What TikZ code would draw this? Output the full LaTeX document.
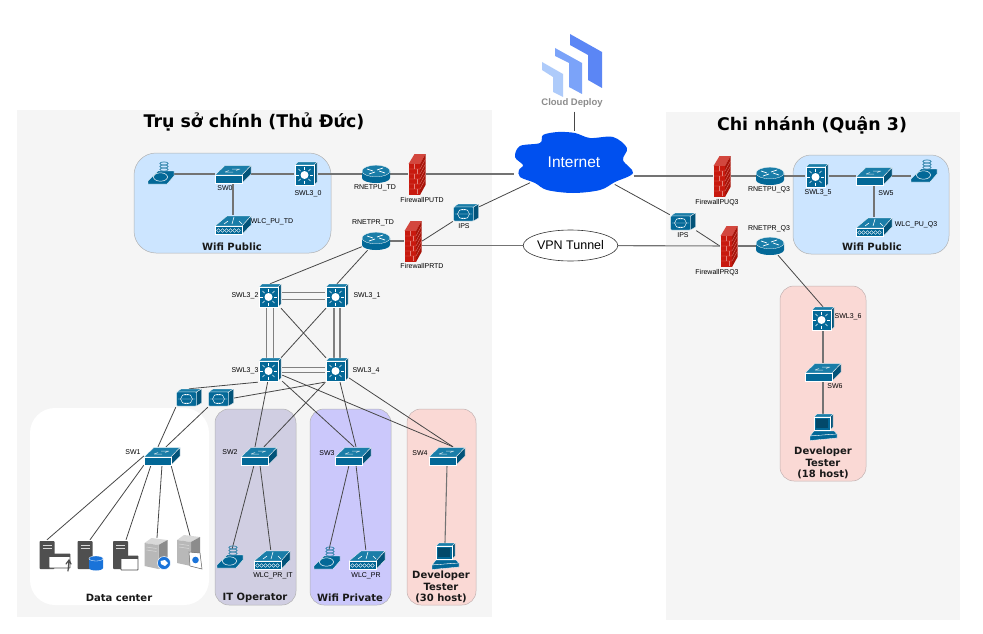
\documentclass[tikz,border=0pt]{standalone}
\usepackage{fontspec}
\setmainfont{Liberation Sans}
\newfontfamily\headfont{DejaVu Sans}
\usetikzlibrary{shapes.geometric, positioning, backgrounds, calc}

\definecolor{ciscoblue}{HTML}{036897}
\definecolor{ciscotop}{HTML}{1A7DA8}
\definecolor{fwred}{HTML}{C8190E}
\definecolor{fwdark}{HTML}{A81409}
\definecolor{panelgray}{HTML}{F5F5F5}
\definecolor{wifiblue}{HTML}{CCE5FF}
\definecolor{itpurple}{HTML}{D0CEE2}
\definecolor{privviolet}{HTML}{CBC8FB}
\definecolor{devred}{HTML}{FAD9D5}
\definecolor{towerdark}{HTML}{4F4F4F}
\definecolor{netblue}{HTML}{0050EF}
\definecolor{dbblue}{HTML}{1A73D9}
\definecolor{deploylight}{HTML}{AECBFA}
\definecolor{deploymid}{HTML}{7BA3F9}
\definecolor{deploydark}{HTML}{5B86F5}

\tikzset{
  lbl/.style={font=\fontsize{7}{8}\selectfont, inner sep=0pt, text=black},
  grouplbl/.style={font=\headfont\bfseries\fontsize{10}{11.2}\selectfont, inner sep=0pt, align=center, text=black!90},
  titlelbl/.style={font=\headfont\bfseries\fontsize{17.4}{19}\selectfont, inner sep=0pt},
  l3box/.style={minimum width=24pt, minimum height=24pt, inner sep=0pt},
  swbox/.style={minimum width=36pt, minimum height=18pt, inner sep=0pt},
  wlcbox/.style={minimum width=36pt, minimum height=20pt, inner sep=0pt},
  routerbox/.style={minimum width=28pt, minimum height=18pt, inner sep=0pt},
  fwbox/.style={minimum width=18pt, minimum height=41pt, inner sep=0pt},
  ipsbox/.style={minimum width=26pt, minimum height=18pt, inner sep=0pt},
  apbox/.style={minimum width=26pt, minimum height=16pt, inner sep=0pt},
  pcbox/.style={minimum width=26pt, minimum height=28pt, inner sep=0pt},
  srvbox/.style={minimum width=20pt, minimum height=30pt, inner sep=0pt},
  link/.style={draw=black!72, line width=0.8pt},
  flatlink/.style={draw=black!55, line width=1.1pt},
  doublelink/.style={draw=black!50, line width=1.2pt},
  group/.style={rounded corners=#1, draw=black!30, line width=0.5pt},
  %
  l3pic/.pic={
    \fill[ciscotop, draw=white, line width=0.3pt] (-11,-9) -- (-8,-12) -- (11,-12) -- (8,-9) -- cycle;
    \fill[ciscoblue!80!black, draw=white, line width=0.3pt] (8,-9) -- (11,-12) -- (11,8) -- (8,11) -- cycle;
    \fill[ciscoblue, draw=white, line width=0.3pt] (-11,-9) rectangle (8,11);
    \foreach \a in {0,45,...,315}
      \draw[white, line width=0.6pt] ($(-1.5,1)+(\a:5.5)$) -- ($(-1.5,1)+(\a:8.5)$);
    \fill[white] (-1.5,1) circle (4);
  },
  swpic/.pic={
    \fill[ciscotop, draw=white, line width=0.3pt] (-18,1) -- (-8,-8.5) -- (18,-8.5) -- (9,1) -- cycle;
    \fill[ciscoblue!80!black, draw=white, line width=0.3pt] (9,1) -- (18,-8.5) -- (18,0) -- (9,9) -- cycle;
    \fill[ciscoblue, draw=white, line width=0.3pt] (-18,1) rectangle (9,9);
    \draw[white!80!ciscoblue, line width=0.5pt] (-8,-2) -- (0,-2) (-1,-5) -- (7,-5) (-4,-3.5) -- (-8,-2) (3,-3.5) -- (7,-5);
  },
  wlcpic/.pic={
    \fill[ciscotop, draw=white, line width=0.3pt] (-18,1) -- (-6,-9) -- (18,-9) -- (9,1) -- cycle;
    \fill[ciscoblue!80!black, draw=white, line width=0.3pt] (9,1) -- (18,-9) -- (18,0) -- (9,9.5) -- cycle;
    \fill[ciscoblue, draw=white, line width=0.3pt] (-18,1) rectangle (9,9.5);
    \draw[white, line width=0.6pt] (1,-8) -- (-1,-1) (-9,-1) -- (-5,-4) (9,-1) -- (6,-4);
    \foreach \c in {-14.5,-10.5,...,6}
      \draw[white, line width=0.4pt] (\c,5.5) circle (1.9);
  },
  routerpic/.pic={
    \fill[ciscoblue] (-14,-3) -- (-14,4) arc[start angle=180, end angle=360, x radius=14, y radius=-5] -- (14,-3) -- cycle;
    \fill[ciscotop, draw=white, line width=0.3pt] (0,-3) ellipse (14 and 5.8);
    \draw[white, line width=0.7pt] (-9,-5) -- (-3,-3) (9,-1) -- (3,-3) (-7,0) -- (-1,-2) (7,-6) -- (1,-4);
  },
  firewallpic/.pic={
    \fill[fwred!80!white] (-8.5,-10) -- (-2.5,-20) -- (8.5,-20) -- (3,-10) -- cycle;
    \fill[fwdark] (3,-10) -- (8.5,-20) -- (8.5,11) -- (3,21) -- cycle;
    \fill[fwred] (-8.5,-10) rectangle (3,21);
    \foreach \r in {-5,0,...,16}
      \draw[fwred!55!white, line width=0.3pt] (-8.5,\r) -- (3,\r) -- (8.5,\r-10);
    \foreach \c/\r in {-3/-10,-3/0,-3/10,0/-5,0/5,0/15}
      \draw[fwred!55!white, line width=0.3pt] (\c,\r) -- (\c,\r+5);
  },
  ipspic/.pic={
    \fill[ciscotop, draw=white, line width=0.3pt] (-12.5,-6) -- (-8,-9) -- (12.5,-9) -- (7.5,-6) -- cycle;
    \fill[ciscoblue!80!black, draw=white, line width=0.3pt] (7.5,-6) -- (12.5,-9) -- (12.5,5) -- (7.5,8) -- cycle;
    \fill[ciscoblue, draw=white, line width=0.3pt, rounded corners=1pt] (-12.5,-6) rectangle (7.5,8);
    \draw[white, line width=0.4pt] (-2.5,1) ellipse (6 and 4.8) (-11,1) -- (6,1) (-7,-3) -- (2,-3) (-7,5) -- (2,5);
  },
  appic/.pic={
    \foreach \h in {-3.5,-6.5,-9.5}
      \draw[ciscoblue!85!white, line width=0.7pt] (3,\h) ellipse (4.2 and 1.6);
    \fill[ciscoblue, draw=white, line width=0.3pt] (-13,11) -- (6,11) -- (13,3) -- (13,-2) -- (-3,-2) -- (-13,8) -- cycle;
    \draw[white, fill=ciscoblue, line width=0.5pt] (-0.5,4) ellipse (7 and 4.2);
  },
  pcpic/.pic={
    \fill[ciscotop, draw=white, line width=0.3pt] (-9,-11) -- (-6,-14) -- (10,-14) -- (7,-11) -- cycle;
    \fill[ciscoblue!80!black, draw=white, line width=0.3pt] (7,-11) -- (10,-14) -- (10,-1) -- (7,2) -- cycle;
    \fill[ciscoblue, draw=white, line width=0.4pt] (-9,-11) rectangle (7,2);
    \fill[ciscoblue!70!black] (-7,-9) rectangle (5,0);
    \fill[ciscoblue, draw=white, line width=0.3pt] (-9,3) -- (11,3) -- (14,6) -- (-13,8) -- cycle;
    \fill[ciscoblue, draw=white, line width=0.3pt] (-13,8) -- (14,6) -- (14,10) -- (-13,12.5) -- cycle;
  },
  % data center machines
  towerpic/.pic={
    \fill[towerdark, rounded corners=0.8pt] (-7.5,-14) rectangle (7.5,14);
    \draw[white!85!black, line width=0.5pt] (-4.5,-10) -- (4.5,-10) (-4.5,-6.5) -- (4.5,-6.5);
  },
  windowpic/.pic={
    \fill[white, draw=towerdark, line width=0.9pt, rounded corners=0.5pt] (0,0) rectangle (#1,14);
    \fill[towerdark] (0,0) rectangle (#1,2.5);
  },
  greyserverpic/.pic={
    \fill[black!15] (-11,-9) -- (-4,-14) -- (12,-12) -- (3,-7) -- cycle;
    \fill[black!45] (3,-7) -- (12,-12) -- (12,12) -- (3,17) -- cycle;
    \fill[black!28] (-11,-9) -- (3,-7) -- (3,17) -- (-11,14) -- cycle;
    \draw[white!85!black, line width=0.5pt] (-9,-5) -- (1,-3.5) (-9,-2) -- (1,-0.5);
  },
}

\begin{document}
\begin{tikzpicture}[x=1pt, y=-1pt]
    \useasboundingbox (0,0) rectangle (983,634);

    % Panels
    \begin{scope}[on background layer]
        \fill[white] (0,0) rectangle (983,634);
        \fill[panelgray] (17,110) rectangle (492,617);
        \fill[panelgray] (666,112) rectangle (960,620);
        \filldraw[group=22pt, fill=wifiblue] (134,153) rectangle (331,253);
        \filldraw[group=18pt, fill=wifiblue] (793,155) rectangle (949,254);
        \fill[white, rounded corners=25pt] (30,408) rectangle (209,605);
        \filldraw[group=14pt, fill=itpurple] (215,409) rectangle (296,605);
        \filldraw[group=14pt, fill=privviolet] (310,409) rectangle (391,605);
        \filldraw[group=14pt, fill=devred, draw=red!20!black!30] (407,409) rectangle (476,605);
        \filldraw[group=14pt, fill=devred, draw=red!20!black!30] (780,286) rectangle (866,481);
    \end{scope}

    % Titles
    \node[titlelbl] (titleTD) at (254,122) {Trụ sở chính (Thủ Đức)};
    \node[titlelbl] (titleQ3) at (812,125) {Chi nhánh (Quận 3)};
    \node[grouplbl] (grpPubTD) at (232,247) {Wifi Public};
    \node[grouplbl] (grpPubQ3) at (872,247) {Wifi Public};
    \node[grouplbl] (grpData) at (119,598) {Data center};
    \node[grouplbl] (grpIT) at (255,598) {IT Operator};
    \node[grouplbl] (grpPriv) at (350,598) {Wifi Private};
    \node[grouplbl] (grpDevTD) at (441,587) {Developer\\Tester\\(30 host)};
    \node[grouplbl] (grpDevQ3) at (823,463) {Developer\\Tester\\(18 host)};

    % Cloud Deploy
    \fill[deploylight] (542,62) -- (563,74) -- (563,97) -- (553,92) -- (553,77) -- (542,70) -- cycle;
    \fill[deploymid] (555,48) -- (582,63) -- (582,94) -- (569,87) -- (569,63) -- (555,56) -- cycle;
    \fill[deploydark] (570,34) -- (602,52) -- (602,88) -- (588,80) -- (588,55) -- (570,45) -- cycle;
    \node[font=\bfseries\fontsize{9.5}{10}\selectfont, text=black!45, inner sep=4pt] (deploy) at (572,103) {Cloud Deploy};

    % Internet and tunnel
    \fill[netblue] plot[smooth cycle, tension=0.55] coordinates {(515,157) (520,146) (540,143) (543,135) (558,132) (575,133) (590,138) (613,137) (627,148) (623,160) (633,173) (615,182) (600,190) (573,193) (547,190) (535,183) (520,177) (519,170) (523,165)};
    \node[ellipse, minimum width=119pt, minimum height=61pt, inner sep=0pt, text=white, font=\fontsize{15.5}{17}\selectfont] (internet) at (574,162) {Internet};
    \node[ellipse, draw=black!80, line width=0.6pt, fill=white, minimum width=89pt, minimum height=31pt, inner sep=0pt, font=\fontsize{12.5}{14}\selectfont] (vpn) at (570.5,245.5) {VPN Tunnel};

    % Layer 3 switches
    \foreach \n/\t/\x/\y/\lx/\ly in {
        swlzero/SWL3\_0/306/174/308/194, swlfive/SWL3\_5/817/176/818/193, swlsix/SWL3\_6/823/319/848/317,
        swlone/SWL3\_1/337/296/367/296, swltwo/SWL3\_2/270/296/245/296,
        swlthree/SWL3\_3/270/370/245/371, swlfour/SWL3\_4/337/370/366/371}{
        \node[l3box] (\n) at (\x,\y) {};
        \pic at (\n) {l3pic};
        \node[lbl] (lbl\n) at (\lx,\ly) {\t};
    }

    % Access switches
    \foreach \n/\t/\x/\y/\lx/\ly in {
        swzero/SW0/233/174/225/188, swone/SW1/162/456/133/452, swtwo/SW2/259/456/230/452,
        swthree/SW3/353/456/327/453, swfour/SW4/447/456/420/453, swfive/SW5/874/176/886/193,
        swsix/SW6/823/372/835/386}{
        \node[swbox] (\n) at (\x,\y) {};
        \pic at (\n) {swpic};
        \node[lbl] (lbl\n) at (\lx,\ly) {\t};
    }

    % Wireless controllers
    \foreach \n/\t/\x/\y/\lx/\ly in {
        wlcputd/WLC\_PU\_TD/233/225/272/222, wlcpuqt/WLC\_PU\_Q3/874/227/916/225,
        wlcprit/WLC\_PR\_IT/272/560/273/576, wlcpr/WLC\_PR/367/560/366/576}{
        \node[wlcbox] (\n) at (\x,\y) {};
        \pic at (\n) {wlcpic};
        \node[lbl] (lbl\n) at (\lx,\ly) {\t};
    }

    % Routers
    \foreach \n/\t/\x/\y/\lx/\ly in {
        rputd/RNETPU\_TD/376/174/375/188, rprtd/RNETPR\_TD/376/241/373/223,
        rpuqt/RNETPU\_Q3/770/176/769/190, rprqt/RNETPR\_Q3/770/246/769/229}{
        \node[routerbox] (\n) at (\x,\y) {};
        \pic at (\n) {routerpic};
        \node[lbl] (lbl\n) at (\lx,\ly) {\t};
    }

    % Firewalls
    \foreach \n/\t/\x/\y/\lx/\ly in {
        fwputd/FirewallPUTD/417/174/422/200, fwprtd/FirewallPRTD/413/241/422/266,
        fwpuqt/FirewallPUQ3/722/176/717/203, fwprqt/FirewallPRQ3/729/246/717/273}{
        \node[fwbox] (\n) at (\x,\y) {};
        \pic at (\n) {firewallpic};
        \node[lbl] (lbl\n) at (\lx,\ly) {\t};
    }

    % IPS boxes
    \node[ipsbox] (ipstd) at (466,213) {};
    \pic at (ipstd) {ipspic};
    \node[lbl] (lblipstd) at (464,226) {IPS};
    \node[ipsbox] (ipsqt) at (683,222) {};
    \pic at (ipsqt) {ipspic};
    \node[lbl] (lblipsqt) at (683,235) {IPS};
    \node[ipsbox] (ipsa) at (189,398) {};
    \pic at (ipsa) {ipspic};
    \node[ipsbox] (ipsb) at (221,398) {};
    \pic at (ipsb) {ipspic};

    % Access points and hosts
    \node[apbox] (aptd) at (161,174) {};
    \pic at (161,173) {appic};
    \node[apbox] (apqt) at (924,176) {};
    \pic at (924,171) {appic};
    \node[apbox] (apit) at (230,557) {};
    \pic at (apit) {appic};
    \node[apbox] (appr) at (327,558) {};
    \pic at (appr) {appic};
    \foreach \n/\x/\y in {pctd/445/557, pcqt/823/428}{
        \node[pcbox] (\n) at (\x,\y) {};
        \pic at (\n) {pcpic};
    }

    % Data center
    \node[srvbox] (srva) at (47,555) {};
    \pic at (47,555) {towerpic};
    \pic at (49,554) {windowpic=21};
    \draw[towerdark, line width=1.2pt, line cap=round] (68,571) -- (69,561) (66,564) -- (69,560) -- (71,564);
    \node[srvbox] (srvb) at (90,555) {};
    \pic at (85,555) {towerpic};
    \fill[dbblue] (89,558.5) -- (89,568) arc[start angle=180, end angle=360, x radius=7, y radius=-2.5] -- (103,558.5) -- cycle;
    \fill[dbblue, draw=white, line width=0.3pt] (96,558.5) ellipse (7 and 2.5);
    \node[srvbox] (srvc) at (126,555) {};
    \pic at (120.5,555) {towerpic};
    \pic at (121,556) {windowpic=17};
    \node[srvbox] (srvd) at (157,553) {};
    \pic at (155.5,552) {greyserverpic};
    \fill[dbblue, draw=white, line width=0.5pt] (164,563) circle (6.5);
    \fill[white] (160.5,561) -- (165,560) -- (168,563) -- (165,566) -- (161,564) -- cycle;
    \node[srvbox] (srve) at (190,551) {};
    \pic at (188,549) {greyserverpic};
    \fill[white, draw=black!60, line width=0.5pt] (189,552) -- (200,553) -- (202,569) -- (190,566) -- cycle;
    \fill[dbblue] (195.5,560) circle (3.3);

    % Links
    \begin{scope}[on background layer]
        \draw[link] (deploy.south -| internet.north) -- (internet.north);
        % Head office, public side
        \draw[flatlink] (aptd) -- (swzero);
        \draw[flatlink] (swzero) -- (swlzero);
        \draw[flatlink] (swzero) -- (wlcputd);
        \draw[flatlink] (swlzero) -- (rputd);
        \draw[flatlink] (rputd) -- (fwputd);
        \draw[flatlink] (fwputd.east) -- (fwputd.east -| internet.west);
        % Head office, private side
        \draw[flatlink] (rprtd) -- (fwprtd);
        \draw[link] (fwprtd.east) -- (ipstd);
        \draw[link] (ipstd) -- (internet);
        \draw[flatlink] (vpn.west -| fwprtd.east) -- (vpn.west);
        \draw[link] (rprtd) -- (swltwo.north);
        \draw[link] (rprtd) -- (swlone.north);
        % Core
        \draw[doublelink] ([yshift=3.5pt]swltwo.east) -- ([yshift=3.5pt]swlone.west);
        \draw[doublelink] ([yshift=-3.5pt]swltwo.east) -- ([yshift=-3.5pt]swlone.west);
        \draw[doublelink] ([yshift=2.8pt]swlthree.east) -- ([yshift=2.8pt]swlfour.west);
        \draw[doublelink] ([yshift=-2.8pt]swlthree.east) -- ([yshift=-2.8pt]swlfour.west);
        \draw[doublelink] ([xshift=-3.5pt]swltwo.south) -- ([xshift=-3.5pt]swlthree.north);
        \draw[doublelink] ([xshift=3.5pt]swltwo.south) -- ([xshift=3.5pt]swlthree.north);
        \draw[doublelink] ([xshift=-3pt]swlone.south) -- ([xshift=-3pt]swlfour.north);
        \draw[doublelink] ([xshift=3pt]swlone.south) -- ([xshift=3pt]swlfour.north);
        \draw[link] (swltwo) -- (swlfour);
        \draw[link] (swlone) -- (swlthree);
        % Core to access
        \draw[link] (swlthree.south west) -- (ipsa.north);
        \draw[link] (swlfour.south west) -- (ipsb.east);
        \draw[link] (ipsa.south west) -- ([xshift=-4pt]swone.north);
        \draw[link] (ipsb.south west) -- ([xshift=4pt]swone.north);
        \draw[link] (swlthree) -- ([xshift=-4pt]swtwo.north);
        \draw[link] (swlfour) -- ([xshift=5pt]swtwo.north);
        \draw[link] (swlthree) -- ([xshift=1pt]swthree.north);
        \draw[link] (swlfour) -- ([xshift=3pt]swthree.north);
        \draw[link] (swlthree) -- ([xshift=6pt]swfour.north);
        \draw[link] (swlfour) -- ([xshift=6pt]swfour.north);
        % Data center
        \draw[link] (swone.west) -- (srva.north);
        \draw[link] (swone.south west) -- (srvb.north);
        \draw[link] ([xshift=-11pt]swone.south) -- (srvc.north);
        \draw[link] (swone.south) -- (srvd.north);
        \draw[link] ([xshift=9pt]swone.south) -- (srve.north);
        % Access rooms
        \draw[link] ([xshift=-5pt]swtwo.south) -- (apit);
        \draw[link] ([xshift=1pt]swtwo.south) -- (wlcprit);
        \draw[link] ([xshift=-4pt]swthree.south) -- (appr);
        \draw[link] ([xshift=3pt]swthree.south) -- (wlcpr);
        \draw[flatlink] (swfour.south) -- (pctd.north);
        % Branch, public side
        \draw[flatlink] (fwpuqt.west -| internet.east) -- (fwpuqt.west);
        \draw[flatlink] (fwpuqt) -- (rpuqt);
        \draw[flatlink] (rpuqt) -- (swlfive);
        \draw[flatlink] (swlfive) -- (swfive);
        \draw[flatlink] (swfive) -- (apqt);
        \draw[flatlink] (swfive) -- (wlcpuqt);
        % Branch, private side
        \draw[link] (internet) -- (ipsqt);
        \draw[link] (ipsqt) -- (fwprqt.west);
        \draw[flatlink] (vpn) -- (fwprqt);
        \draw[flatlink] (fwprqt) -- (rprqt);
        \draw[link] (rprqt) -- (swlsix.north);
        \draw[flatlink] (swlsix) -- (swsix);
        \draw[flatlink] (swsix) -- (pcqt);
    \end{scope}
\end{tikzpicture}
\end{document}
